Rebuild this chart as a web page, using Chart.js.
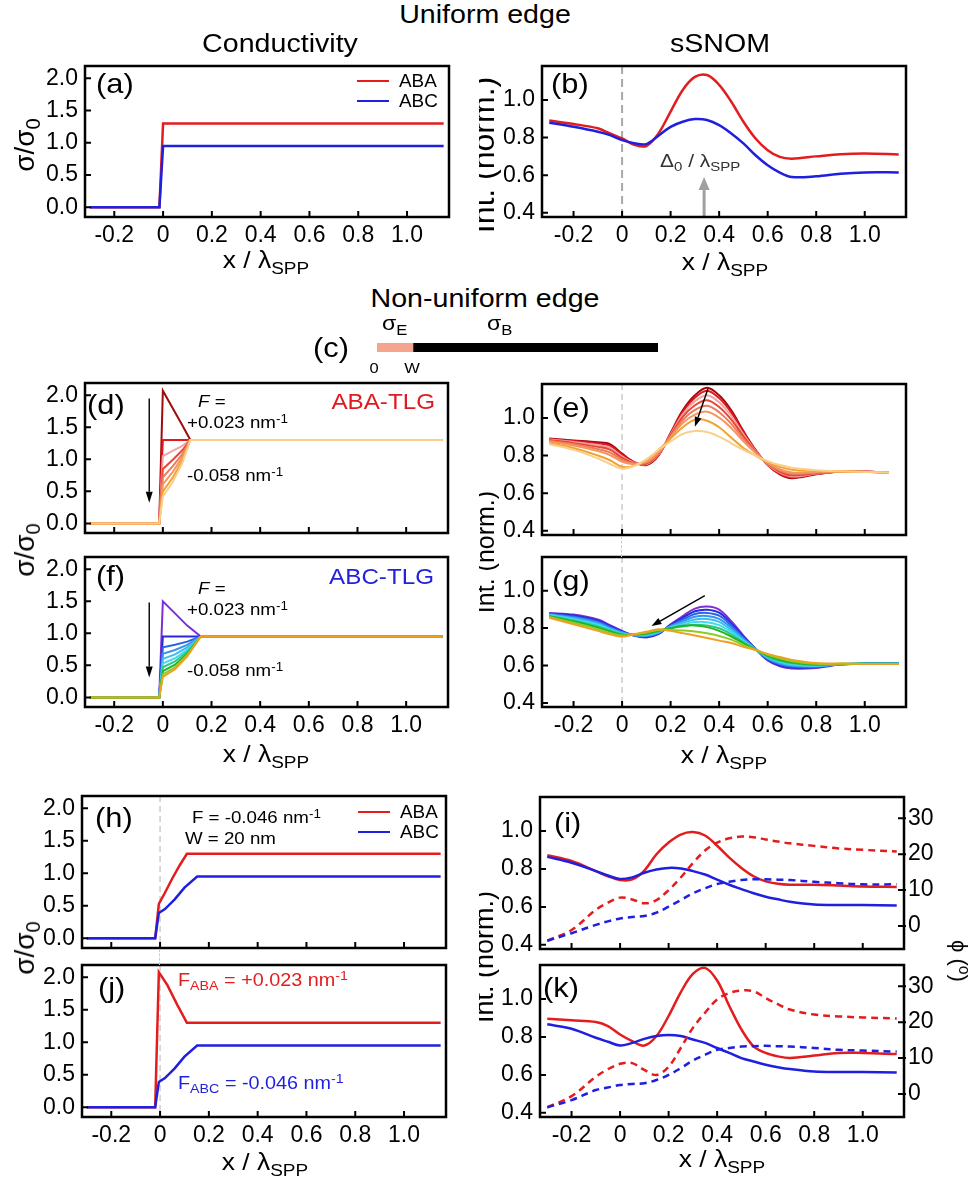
<!DOCTYPE html>
<html>
<head>
<meta charset="utf-8">
<title>Uniform and non-uniform edge</title>
<script src="https://cdn.jsdelivr.net/npm/chart.js@4.4.0/dist/chart.umd.min.js"></script>
<style>
  html, body { margin: 0; background: #fff; }
  #fig { position: relative; width: 970px; height: 1182px; overflow: hidden;
         font-family: "Liberation Sans", Arial, Helvetica, sans-serif; color: #000; }
  #fig canvas { position: absolute; }
  .t { position: absolute; white-space: nowrap; line-height: 1; }
  .t sub, .t sup { position: relative; vertical-align: baseline; font-size: 0.72em; }
  .t sub { top: 0.32em; }
  .t sup { top: -0.45em; }
  .clip { position: absolute; overflow: hidden; }
  .key { position: absolute; height: 2.5px; width: 32px; }
  .gap { position: absolute; width: 0; border-left: 1.5px dashed #cccccc; }
</style>
</head>
<body>
<div id="fig"></div>
<script>
// ---------- data (x in units of lambda_SPP) ----------
const xTicks = [-0.2, 0, 0.2, 0.4, 0.6, 0.8, 1.0];
const xTickLabels = ['-0.2', '0', '0.2', '0.4', '0.6', '0.8', '1.0'];
const sigmaTicks = [0, 0.5, 1.0, 1.5, 2.0];
const intTicks = [0.4, 0.6, 0.8, 1.0];
const phiTicks = [0, 10, 20, 30];

// (a) uniform edge, conductivity
const xStep = [-0.3, -0.015, 0, 1.15];
const sigmaUniABA = [0, 0, 1.3, 1.3];
const sigmaUniABC = [0, 0, 0.95, 0.95];

// line-scan positions used by the sSNOM panels
const xScan = [-0.3, -0.2, -0.1, -0.05, 0, 0.05, 0.1, 0.15, 0.2, 0.25, 0.3, 0.35, 0.4, 0.45, 0.5, 0.55, 0.6, 0.65, 0.7, 0.8, 0.9, 1.0, 1.14];
const xScanE = [-0.3, -0.2, -0.1, -0.05, 0, 0.05, 0.1, 0.15, 0.2, 0.25, 0.3, 0.35, 0.4, 0.45, 0.5, 0.55, 0.6, 0.65, 0.7, 0.8, 0.9, 1.0, 1.1];

// (b) uniform edge, sSNOM
const snomUniABA = [0.89, 0.872, 0.849, 0.822, 0.795, 0.762, 0.755, 0.822, 0.938, 1.053, 1.122, 1.132, 1.08, 0.99, 0.884, 0.795, 0.733, 0.697, 0.688, 0.70, 0.711, 0.715, 0.71];
const snomUniABC = [0.879, 0.857, 0.831, 0.813, 0.786, 0.77, 0.765, 0.81, 0.857, 0.884, 0.898, 0.893, 0.866, 0.822, 0.769, 0.706, 0.653, 0.614, 0.59, 0.594, 0.608, 0.615, 0.615];

// (c) edge schematic: width of edge strip vs bulk
const edgeSchematic = [0.128, 0.872];

// (d) ABA-TLG edge profiles, F = +0.023 ... -0.058 nm^-1
const xEdgeABA = [-0.3, -0.015, 0, 0.04, 0.08, 0.113, 1.15];
const sigmaEdgeABA = [
  [0, 0, 2.07, 1.80, 1.53, 1.3, 1.3],
  [0, 0, 1.3, 1.3, 1.3, 1.3, 1.3],
  [0, 0, 1.05, 1.13, 1.21, 1.3, 1.3],
  [0, 0, 0.85, 0.99, 1.14, 1.3, 1.3],
  [0, 0, 0.72, 0.89, 1.08, 1.3, 1.3],
  [0, 0, 0.61, 0.80, 1.03, 1.3, 1.3],
  [0, 0, 0.5, 0.71, 0.98, 1.3, 1.3],
  [0, 0, 0.42, 0.64, 0.94, 1.3, 1.3]
];
const edgeColorsABA = ['#9e0b0f', '#e3171c', '#f2a3a3', '#e64634', '#ee7a5c', '#f39660', '#f2a232', '#fad089'];

// (e) ABA-TLG sSNOM profiles
const snomEdgeABA = [
  [0.89, 0.88, 0.87, 0.86, 0.81, 0.765, 0.75, 0.80, 0.92, 1.04, 1.12, 1.16, 1.12, 1.04, 0.93, 0.83, 0.75, 0.70, 0.68, 0.70, 0.715, 0.715, 0.71],
  [0.888, 0.877, 0.864, 0.853, 0.804, 0.764, 0.752, 0.802, 0.917, 1.031, 1.107, 1.144, 1.105, 1.028, 0.923, 0.828, 0.751, 0.704, 0.684, 0.702, 0.715, 0.715, 0.71],
  [0.885, 0.872, 0.856, 0.842, 0.796, 0.762, 0.755, 0.805, 0.912, 1.019, 1.088, 1.12, 1.083, 1.01, 0.913, 0.825, 0.753, 0.709, 0.689, 0.704, 0.715, 0.715, 0.71],
  [0.882, 0.866, 0.846, 0.831, 0.788, 0.759, 0.758, 0.808, 0.907, 1.005, 1.067, 1.094, 1.058, 0.991, 0.902, 0.822, 0.756, 0.714, 0.695, 0.706, 0.715, 0.714, 0.71],
  [0.878, 0.86, 0.835, 0.817, 0.777, 0.757, 0.762, 0.812, 0.902, 0.989, 1.042, 1.064, 1.03, 0.968, 0.889, 0.818, 0.758, 0.72, 0.703, 0.709, 0.715, 0.714, 0.71],
  [0.874, 0.853, 0.824, 0.803, 0.767, 0.754, 0.766, 0.816, 0.896, 0.973, 1.017, 1.033, 1.001, 0.946, 0.876, 0.814, 0.761, 0.727, 0.71, 0.712, 0.715, 0.714, 0.71],
  [0.865, 0.84, 0.80, 0.775, 0.74, 0.745, 0.775, 0.83, 0.89, 0.95, 0.99, 0.985, 0.95, 0.895, 0.84, 0.80, 0.765, 0.74, 0.725, 0.718, 0.715, 0.713, 0.71],
  [0.86, 0.83, 0.785, 0.755, 0.73, 0.745, 0.78, 0.83, 0.875, 0.915, 0.93, 0.925, 0.90, 0.865, 0.83, 0.80, 0.77, 0.75, 0.735, 0.722, 0.716, 0.713, 0.71]
];

// (f) ABC-TLG edge profiles
const xEdgeABC = [-0.3, -0.015, 0, 0.05, 0.1, 0.156, 1.15];
const sigmaEdgeABC = [
  [0, 0, 1.5, 1.31, 1.12, 0.95, 0.95],
  [0, 0, 0.95, 0.95, 0.95, 0.95, 0.95],
  [0, 0, 0.78, 0.82, 0.87, 0.95, 0.95],
  [0, 0, 0.68, 0.74, 0.82, 0.95, 0.95],
  [0, 0, 0.6, 0.67, 0.78, 0.95, 0.95],
  [0, 0, 0.53, 0.61, 0.74, 0.95, 0.95],
  [0, 0, 0.47, 0.56, 0.71, 0.95, 0.95],
  [0, 0, 0.41, 0.51, 0.68, 0.95, 0.95],
  [0, 0, 0.36, 0.47, 0.66, 0.95, 0.95],
  [0, 0, 0.32, 0.44, 0.64, 0.95, 0.95]
];
const edgeColorsABC = ['#7b2fd4', '#2828dc', '#2a64e6', '#3296f0', '#3cbcf0', '#3fdcec', '#2cc88c', '#22b422', '#8ccc28', '#f0a01e'];

// (g) ABC-TLG sSNOM profiles
const snomEdgeABC = [
  [0.881, 0.872, 0.846, 0.816, 0.785, 0.759, 0.75, 0.767, 0.82, 0.864, 0.904, 0.915, 0.899, 0.837, 0.76, 0.69, 0.627, 0.596, 0.584, 0.587, 0.605, 0.61, 0.61],
  [0.878, 0.867, 0.840, 0.811, 0.782, 0.760, 0.753, 0.770, 0.817, 0.855, 0.890, 0.898, 0.882, 0.825, 0.754, 0.689, 0.631, 0.601, 0.589, 0.590, 0.606, 0.61, 0.61],
  [0.876, 0.862, 0.834, 0.806, 0.779, 0.761, 0.756, 0.772, 0.813, 0.846, 0.875, 0.881, 0.866, 0.814, 0.748, 0.689, 0.634, 0.606, 0.593, 0.592, 0.606, 0.61, 0.61],
  [0.873, 0.856, 0.828, 0.801, 0.776, 0.761, 0.759, 0.775, 0.81, 0.837, 0.861, 0.865, 0.849, 0.802, 0.742, 0.688, 0.638, 0.611, 0.598, 0.595, 0.607, 0.609, 0.609],
  [0.871, 0.851, 0.822, 0.796, 0.773, 0.762, 0.762, 0.778, 0.806, 0.828, 0.846, 0.848, 0.833, 0.79, 0.736, 0.687, 0.641, 0.616, 0.602, 0.597, 0.607, 0.609, 0.609],
  [0.868, 0.846, 0.816, 0.792, 0.77, 0.763, 0.765, 0.781, 0.803, 0.819, 0.832, 0.831, 0.816, 0.779, 0.73, 0.687, 0.645, 0.621, 0.607, 0.60, 0.608, 0.609, 0.609],
  [0.865, 0.841, 0.809, 0.787, 0.767, 0.764, 0.768, 0.783, 0.799, 0.809, 0.818, 0.814, 0.799, 0.767, 0.724, 0.686, 0.648, 0.625, 0.612, 0.603, 0.608, 0.609, 0.609],
  [0.863, 0.836, 0.803, 0.782, 0.764, 0.765, 0.771, 0.786, 0.80, 0.812, 0.814, 0.805, 0.785, 0.755, 0.718, 0.685, 0.652, 0.63, 0.616, 0.605, 0.609, 0.609, 0.609],
  [0.859, 0.828, 0.794, 0.774, 0.76, 0.766, 0.776, 0.79, 0.79, 0.787, 0.782, 0.772, 0.758, 0.738, 0.709, 0.684, 0.657, 0.638, 0.623, 0.609, 0.609, 0.608, 0.608],
  [0.855, 0.82, 0.785, 0.767, 0.755, 0.767, 0.78, 0.794, 0.785, 0.773, 0.76, 0.747, 0.733, 0.72, 0.70, 0.683, 0.662, 0.645, 0.63, 0.613, 0.61, 0.608, 0.608]
];

// (h) F = -0.046 nm^-1, W = 20 nm ; (j) F_ABA = +0.023, F_ABC = -0.046
const xGradABA = [-0.3, -0.02, -0.005, 0.02, 0.05, 0.08, 0.11, 1.15];
const sigmaGradABA = [0, 0, 0.53, 0.70, 0.92, 1.12, 1.3, 1.3];
const xGradABC = [-0.3, -0.02, -0.005, 0.02, 0.06, 0.1, 0.152, 1.15];
const sigmaGradABC = [0, 0, 0.39, 0.45, 0.6, 0.78, 0.95, 0.95];
const xPeakABA = [-0.3, -0.02, -0.005, 0.03, 0.07, 0.11, 1.15];
const sigmaPeakABA = [0, 0, 2.08, 1.88, 1.58, 1.3, 1.3];

// (i) amplitude and phase (deg)
const ampGradABA = [0.873, 0.842, 0.789, 0.762, 0.742, 0.745, 0.792, 0.878, 0.94, 0.982, 0.995, 0.977, 0.923, 0.86, 0.806, 0.762, 0.735, 0.722, 0.717, 0.717, 0.713, 0.708, 0.705];
const ampGradABC = [0.864, 0.833, 0.789, 0.766, 0.747, 0.756, 0.78, 0.797, 0.806, 0.803, 0.789, 0.771, 0.744, 0.717, 0.694, 0.672, 0.654, 0.64, 0.627, 0.613, 0.61, 0.61, 0.608];
const phiGradABA = [-4.1, -1.1, 4.5, 6.5, 7.9, 7.4, 6.3, 7.2, 10, 13.5, 17.5, 21, 23.2, 24.4, 24.9, 24.7, 24.1, 23.5, 23, 22.3, 21.6, 21.2, 20.7];
const phiGradABC = [-4.1, -2, 0.3, 1.3, 2.1, 2.5, 2.8, 3.7, 5.4, 7.2, 9.1, 10.5, 11.7, 12.3, 12.8, 13, 13, 12.9, 12.8, 12.3, 11.9, 11.6, 11.6];

// (k) amplitude and phase (deg)
const ampPeakABA = [0.897, 0.888, 0.879, 0.858, 0.813, 0.778, 0.755, 0.805, 0.911, 1.036, 1.133, 1.165, 1.098, 0.964, 0.84, 0.751, 0.716, 0.698, 0.689, 0.702, 0.716, 0.716, 0.71];
const ampPeakABC = [0.867, 0.844, 0.796, 0.775, 0.755, 0.769, 0.79, 0.805, 0.81, 0.805, 0.787, 0.769, 0.742, 0.716, 0.689, 0.671, 0.654, 0.641, 0.631, 0.618, 0.615, 0.615, 0.613];
const phiPeakABA = [-3.7, -0.6, 4.8, 6.9, 8.4, 8.6, 6.7, 5.3, 7.6, 12.8, 18.4, 22.6, 26.3, 28.1, 28.8, 28.6, 26.7, 25, 23.5, 22.1, 21.6, 21.3, 21];
const phiPeakABC = [-3.7, -1.7, 1.1, 1.8, 2.5, 2.8, 3, 3.9, 5.3, 7.2, 9.3, 10.9, 12.3, 12.8, 13.2, 13.3, 13.4, 13.3, 13.2, 12.8, 12.3, 12.1, 11.8];

// ---------- drawing ----------
const fig = document.getElementById('fig');
const FONT = '"Liberation Sans", Arial, Helvetica, sans-serif';
const RED = '#e31d1d', BLUE = '#1f1fe0';
const extras = {};

function ds(xs, ys, color, width, more) {
  return Object.assign({
    data: xs.map((x, i) => ({x: x, y: ys[i]})),
    borderColor: color, borderWidth: width, pointRadius: 0, fill: false, tension: 0
  }, more || {});
}
// later datasets are drawn on top
function stackUp(list) {
  list.forEach((d, i) => { d.order = list.length - i; });
  return list;
}
const smooth = {tension: 0.35};

// frame, inward ticks, zero line and arrows
const deco = {
  id: 'deco',
  beforeDatasetsDraw(chart) {
    const ex = extras[chart.canvas.id];
    const {ctx, chartArea: a} = chart;
    if (ex.zero) {
      const px = chart.scales.x.getPixelForValue(0);
      ctx.save();
      ctx.strokeStyle = ex.zero.color;
      ctx.lineWidth = ex.zero.width;
      ctx.setLineDash(ex.zero.dash);
      ctx.beginPath(); ctx.moveTo(px, a.top); ctx.lineTo(px, a.bottom); ctx.stroke();
      ctx.restore();
    }
  },
  afterDatasetsDraw(chart) {
    const ex = extras[chart.canvas.id];
    const {ctx, chartArea: a, scales} = chart;
    ctx.save();
    (ex.arrows || []).forEach(ar => {
      const x1 = scales.x.getPixelForValue(ar.from[0]), y1 = scales.y.getPixelForValue(ar.from[1]);
      const x2 = scales.x.getPixelForValue(ar.to[0]), y2 = scales.y.getPixelForValue(ar.to[1]);
      const ang = Math.atan2(y2 - y1, x2 - x1);
      const hl = ar.head[0], hw = ar.head[1] / 2;
      const bx = x2 - hl * Math.cos(ang), by = y2 - hl * Math.sin(ang);
      ctx.strokeStyle = ar.color; ctx.fillStyle = ar.color; ctx.lineWidth = ar.width;
      ctx.beginPath(); ctx.moveTo(x1, y1); ctx.lineTo(bx, by); ctx.stroke();
      ctx.beginPath(); ctx.moveTo(x2, y2);
      ctx.lineTo(bx + hw * Math.sin(ang), by - hw * Math.cos(ang));
      ctx.lineTo(bx - hw * Math.sin(ang), by + hw * Math.cos(ang));
      ctx.closePath(); ctx.fill();
    });
    const TL = 6;
    ctx.strokeStyle = '#000'; ctx.lineWidth = 2; ctx.setLineDash([]);
    ctx.beginPath();
    scales.x.ticks.forEach(t => {
      const p = scales.x.getPixelForValue(t.value);
      ctx.moveTo(p, a.bottom); ctx.lineTo(p, a.bottom - TL);
    });
    scales.y.ticks.forEach(t => {
      const p = scales.y.getPixelForValue(t.value);
      ctx.moveTo(a.left, p); ctx.lineTo(a.left + TL, p);
    });
    if (scales.y2) {
      scales.y2.ticks.forEach(t => {
        const p = scales.y2.getPixelForValue(t.value);
        ctx.moveTo(a.right + 2, p); ctx.lineTo(a.right - TL, p);
      });
    }
    ctx.stroke();
    ctx.lineWidth = 2.5;
    ctx.strokeRect(a.left, a.top, a.right - a.left, a.bottom - a.top);
    ctx.restore();
  }
};

function panel(id, box, o) {
  const YW = 70, PT = 30, XH = 40, RW = o.phi ? 70 : 20;
  const left = o.side === 'L';
  const cv = document.createElement('canvas');
  cv.id = id;
  cv.width = box.r - box.l + YW + RW;
  cv.height = box.b - box.t + PT + XH;
  cv.style.left = (box.l - YW) + 'px';
  cv.style.top = (box.t - PT) + 'px';
  fig.appendChild(cv);
  extras[id] = o.extra || {};
  const tickFont = {family: FONT, size: 23};
  const plain = {grid: {display: false, drawTicks: false}, border: {display: false}};
  const scales = {
    x: Object.assign({
      type: 'linear', min: left ? -0.32 : -0.33, max: left ? 1.172 : 1.17,
      afterFit: s => { s.height = XH; },
      afterBuildTicks: s => { s.ticks = xTicks.map(v => ({value: v})); },
      ticks: {display: !!o.xLabels, padding: 5, font: tickFont, color: '#000',
              autoSkip: false, maxRotation: 0, callback: (v, i) => xTickLabels[i]}
    }, plain),
    y: Object.assign({
      type: 'linear', min: left ? -0.15 : 0.378, max: left ? 2.19 : 1.18,
      afterFit: s => { s.width = YW; },
      afterBuildTicks: s => { s.ticks = (left ? sigmaTicks : intTicks).map(v => ({value: v})); },
      ticks: {padding: 7, font: tickFont, color: '#000', autoSkip: false, callback: v => v.toFixed(1)}
    }, plain)
  };
  if (o.phi) {
    scales.y2 = Object.assign({
      type: 'linear', position: 'right', min: -6.4, max: 35.9,
      afterFit: s => { s.width = RW; },
      afterBuildTicks: s => { s.ticks = phiTicks.map(v => ({value: v})); },
      ticks: {padding: 4, font: tickFont, color: '#000', autoSkip: false, callback: v => String(v)}
    }, plain);
  }
  return new Chart(cv, {
    type: 'line',
    data: {datasets: o.datasets},
    options: {
      responsive: false, animation: false, events: [],
      layout: {autoPadding: false, padding: {top: PT, right: o.phi ? 0 : RW, left: 0, bottom: 0}},
      scales: scales,
      plugins: {legend: {display: false}, tooltip: {enabled: false}}
    },
    plugins: [deco]
  });
}

const zeroDark = {color: '#a8a8a8', width: 2, dash: [8, 5]};
const zeroLight = {color: '#cccccc', width: 1.5, dash: [6, 4]};

// (a)
panel('pa', {l: 85, t: 66, r: 449, b: 217}, {side: 'L', xLabels: true, datasets: stackUp([
  ds(xStep, sigmaUniABA, RED, 2.5), ds(xStep, sigmaUniABC, BLUE, 2.5)])});

// (b)
panel('pb', {l: 542, t: 66, r: 906, b: 217}, {side: 'R', xLabels: true,
  extra: {zero: zeroDark, arrows: [{from: [0.338, 0.378], to: [0.338, 0.59], color: '#a0a0a0', width: 3, head: [13, 11]}]},
  datasets: stackUp([ds(xScan, snomUniABA, RED, 2.5, smooth), ds(xScan, snomUniABC, BLUE, 2.5, smooth)])});

// (d)
panel('pd', {l: 85, t: 383, r: 448, b: 533}, {side: 'L',
  extra: {arrows: [{from: [-0.056, 1.95], to: [-0.056, 0.32], color: '#000', width: 1.4, head: [11, 7]}]},
  datasets: stackUp(sigmaEdgeABA.map((ys, i) => ds(xEdgeABA, ys, edgeColorsABA[i], 2)))});

// (e)
const chartE = panel('pe', {l: 542, t: 384, r: 906, b: 535}, {side: 'R',
  extra: {zero: zeroLight, arrows: [{from: [0.354, 1.155], to: [0.30, 0.953], color: '#000', width: 1.4, head: [10, 7]}]},
  datasets: stackUp(snomEdgeABA.map((ys, i) => ds(xScanE, ys, edgeColorsABA[i], 2, smooth)))});

// (f)
panel('pf', {l: 85, t: 557, r: 448, b: 707}, {side: 'L', xLabels: true,
  extra: {arrows: [{from: [-0.056, 1.48], to: [-0.056, 0.31], color: '#000', width: 1.4, head: [11, 7]}]},
  datasets: stackUp(sigmaEdgeABC.map((ys, i) => ds(xEdgeABC, ys, edgeColorsABC[i], 2)))});

// (g)
panel('pg', {l: 542, t: 557, r: 906, b: 707}, {side: 'R', xLabels: true,
  extra: {zero: zeroLight, arrows: [{from: [0.341, 0.974], to: [0.121, 0.811], color: '#000', width: 1.4, head: [10, 7]}]},
  datasets: stackUp(snomEdgeABC.map((ys, i) => ds(xScan, ys, edgeColorsABC[i], 2, smooth)))});

// (h)
const chartH = panel('ph', {l: 82, t: 796, r: 446, b: 948}, {side: 'L', extra: {zero: zeroLight},
  datasets: stackUp([ds(xGradABA, sigmaGradABA, RED, 2.5), ds(xGradABC, sigmaGradABC, BLUE, 2.5)])});

// (i)
panel('pi', {l: 540, t: 797, r: 904, b: 949}, {side: 'R', phi: true, datasets: stackUp([
  ds(xScan, ampGradABA, RED, 2.5, smooth), ds(xScan, ampGradABC, BLUE, 2.5, smooth),
  ds(xScan, phiGradABA, RED, 2.5, Object.assign({yAxisID: 'y2', borderDash: [7, 5]}, smooth)),
  ds(xScan, phiGradABC, BLUE, 2.5, Object.assign({yAxisID: 'y2', borderDash: [7, 5]}, smooth))])});

// (j)
panel('pj', {l: 82, t: 965, r: 446, b: 1117}, {side: 'L', xLabels: true, extra: {zero: zeroLight},
  datasets: stackUp([ds(xPeakABA, sigmaPeakABA, RED, 2.5), ds(xGradABC, sigmaGradABC, BLUE, 2.5)])});

// (k)
panel('pk', {l: 540, t: 965, r: 904, b: 1117}, {side: 'R', phi: true, xLabels: true, datasets: stackUp([
  ds(xScan, ampPeakABA, RED, 2.5, smooth), ds(xScan, ampPeakABC, BLUE, 2.5, smooth),
  ds(xScan, phiPeakABA, RED, 2.5, Object.assign({yAxisID: 'y2', borderDash: [7, 5]}, smooth)),
  ds(xScan, phiPeakABC, BLUE, 2.5, Object.assign({yAxisID: 'y2', borderDash: [7, 5]}, smooth))])});

// (c) schematic strip
(function () {
  const cv = document.createElement('canvas');
  cv.width = 281; cv.height = 9;
  cv.style.left = '377px'; cv.style.top = '343px';
  fig.appendChild(cv);
  new Chart(cv, {
    type: 'bar',
    data: {labels: [''], datasets: [
      {data: [edgeSchematic[0]], backgroundColor: '#f5a58c'},
      {data: [edgeSchematic[1]], backgroundColor: '#000'}]},
    options: {
      indexAxis: 'y', responsive: false, animation: false, events: [],
      layout: {autoPadding: false, padding: 0},
      datasets: {bar: {barPercentage: 1, categoryPercentage: 1, borderWidth: 0}},
      scales: {x: {stacked: true, display: false, min: 0, max: 1}, y: {stacked: true, display: false}},
      plugins: {legend: {display: false}, tooltip: {enabled: false}}
    }
  });
})();

// dashed zero line through the gaps between stacked panels
function gapLine(chart, top, bottom) {
  const d = document.createElement('div');
  d.className = 'gap';
  d.style.left = (parseFloat(chart.canvas.style.left) + chart.scales.x.getPixelForValue(0) - 0.75) + 'px';
  d.style.top = top + 'px';
  d.style.height = (bottom - top) + 'px';
  fig.appendChild(d);
}
gapLine(chartE, 536, 557);
gapLine(chartH, 949, 965);

// ---------- text ----------
function txt(html, x, y, size, opt) {
  opt = opt || {};
  const d = document.createElement('div');
  d.className = 't';
  d.innerHTML = html;
  d.style.left = x + 'px';
  d.style.top = y + 'px';
  d.style.fontSize = size + 'px';
  if (opt.color) d.style.color = opt.color;
  const sx = opt.sx === undefined ? 1.1 : opt.sx;
  if (opt.rot) {
    d.style.transformOrigin = '50% 50%';
    d.style.transform = 'translate(-50%,-50%) rotate(' + opt.rot + 'deg)';
  } else if (opt.anchor === 'center') {
    d.style.transformOrigin = '50% 50%';
    d.style.transform = 'translate(-50%,-50%) scaleX(' + sx + ')';
  } else if (opt.anchor === 'right') {
    d.style.transformOrigin = '100% 50%';
    d.style.transform = 'translate(-100%,-50%) scaleX(' + sx + ')';
  } else {
    d.style.transformOrigin = '0 50%';
    d.style.transform = 'translateY(-50%) scaleX(' + sx + ')';
  }
  (opt.parent || fig).appendChild(d);
  return d;
}
function key(x, y, color) {
  const d = document.createElement('div');
  d.className = 'key';
  d.style.left = x + 'px';
  d.style.top = (y - 1.25) + 'px';
  d.style.background = color;
  fig.appendChild(d);
}

const C = {anchor: 'center'};
txt('Uniform edge', 485, 14, 26, C);
txt('Conductivity', 280, 43, 26, C);
txt('sSNOM', 720, 43, 26, C);
txt('Non-uniform edge', 485, 298, 26, C);

// panel letters
[['(a)', 96, 84], ['(b)', 551, 84], ['(c)', 313, 348], ['(d)', 87, 405], ['(e)', 552, 408],
 ['(f)', 96, 576], ['(g)', 552, 581], ['(h)', 95, 818], ['(i)', 554, 823], ['(j)', 98, 988], ['(k)', 543, 988]]
  .forEach(p => txt(p[0], p[1], p[2], 28));

// axis titles
const xTitle = 'x / &lambda;<sub>SPP</sub>';
[[266, 260], [725, 262], [266, 754], [724, 755], [265, 1162], [722, 1159]]
  .forEach(p => txt(xTitle, p[0], p[1], 24, C));
[145, 550, 948].forEach(y => txt('&sigma;/&sigma;<sub>0</sub>', 25, y, 28, {rot: -90}));
const clip = document.createElement('div');
clip.className = 'clip';
clip.style.left = '479px'; clip.style.top = '0px'; clip.style.width = '40px'; clip.style.height = '1182px';
fig.appendChild(clip);
txt('Int. (norm.)', 4, 155, 32, {rot: -90, parent: clip});
txt('Int. (norm.)', 6, 552, 25, {rot: -90, parent: clip});
txt('Int. (norm.)', 5, 957, 27, {rot: -90, parent: clip});
txt('&#981; (<sup>o</sup>)', 959, 961, 22, {rot: 90});

// legends
key(357, 81, RED); txt('ABA', 399, 81, 18, {sx: 1.05});
key(357, 101, BLUE); txt('ABC', 399, 101, 18, {sx: 1.05});
key(358, 812, RED); txt('ABA', 400, 812, 18, {sx: 1.05});
key(358, 832, BLUE); txt('ABC', 400, 832, 18, {sx: 1.05});

// annotations
txt('&Delta;<sub>0</sub> / &lambda;<sub>SPP</sub>', 660, 160, 19, {color: '#333'});
txt('&sigma;<sub>E</sub>', 382, 322, 21);
txt('&sigma;<sub>B</sub>', 487, 322, 21);
txt('0', 374, 367, 15, C);
txt('W', 412, 367, 15, C);

txt('<i>F</i> =', 198, 401, 17);
txt('+0.023 nm<sup>-1</sup>', 187, 422, 17);
txt('-0.058 nm<sup>-1</sup>', 187, 475, 17);
txt('ABA-TLG', 435, 402, 22, {anchor: 'right', color: '#df1b1f'});

txt('<i>F</i> =', 198, 588, 17);
txt('+0.023 nm<sup>-1</sup>', 187, 609, 17);
txt('-0.058 nm<sup>-1</sup>', 187, 670, 17);
txt('ABC-TLG', 434, 577, 22, {anchor: 'right', color: '#2222dc'});

txt('F = -0.046 nm<sup>-1</sup>', 192, 817, 17);
txt('W = 20 nm', 185, 838, 17);
txt('F<sub>ABA</sub> = +0.023 nm<sup>-1</sup>', 178, 980, 18, {color: RED});
txt('F<sub>ABC</sub> = -0.046 nm<sup>-1</sup>', 178, 1083, 18, {color: BLUE});
</script>
</body>
</html>
